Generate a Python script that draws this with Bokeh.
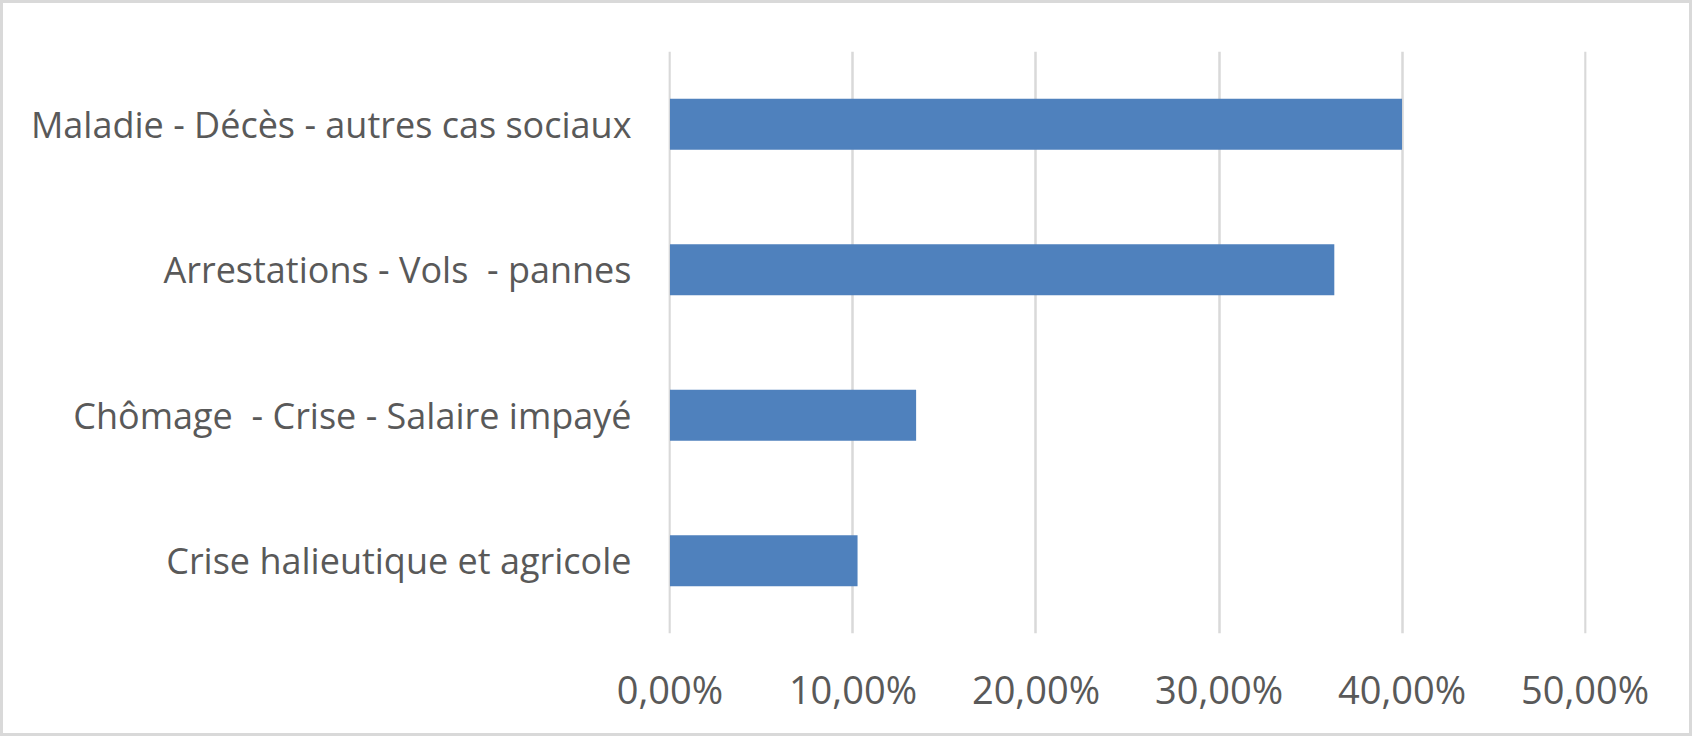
from bokeh.plotting import figure
from bokeh.models import ColumnDataSource, FixedTicker, Range1d, FactorRange
from bokeh.embed import file_html
from bokeh.resources import INLINE

categories = [
    "Crise halieutique et agricole",
    "Chômage \u00a0- Crise - Salaire impayé",
    "Arrestations - Vols \u00a0- pannes",
    "Maladie - Décès - autres cas sociaux",
]
values = [10.25, 13.45, 36.3, 40.0]
tick_values = [0, 10, 20, 30, 40, 50]
tick_labels = ["0,00%", "10,00%", "20,00%", "30,00%", "40,00%", "50,00%"]

src = ColumnDataSource(dict(cat=categories, val=values))

p = figure(
    width=1692, height=736,
    y_range=FactorRange(*categories, range_padding=0),
    x_range=Range1d(-0.08, 50.08),
    output_backend="svg", toolbar_location=None,
    min_border_left=665, min_border_right=109,
    min_border_top=48, min_border_bottom=106,
)
p.styles = {"border": "3px solid #d9d9d9"}
p.outline_line_color = None
p.background_fill_color = "white"
p.border_fill_color = "white"

p.hbar(y="cat", right="val", left=0, height=0.35, source=src,
       fill_color="#4F81BD", line_color=None)

p.xaxis.ticker = FixedTicker(ticks=tick_values)
p.xaxis.major_label_overrides = {v: l for v, l in zip(tick_values, tick_labels)}
for ax in (p.xaxis, p.yaxis):
    ax.axis_line_color = None
    ax.major_tick_line_color = None
    ax.minor_tick_line_color = None
    ax.major_label_text_font = "Open Sans"
    ax.major_label_text_color = "#595959"
p.xaxis.major_label_text_font_size = "38px"
p.yaxis.major_label_text_font_size = "36px"
p.xaxis.major_label_standoff = 23
p.yaxis.major_label_standoff = 31

p.xgrid.grid_line_color = "#D9D9D9"
p.xgrid.grid_line_width = 2.5
p.ygrid.grid_line_color = None

open("out.html", "w").write(file_html(p, INLINE))
